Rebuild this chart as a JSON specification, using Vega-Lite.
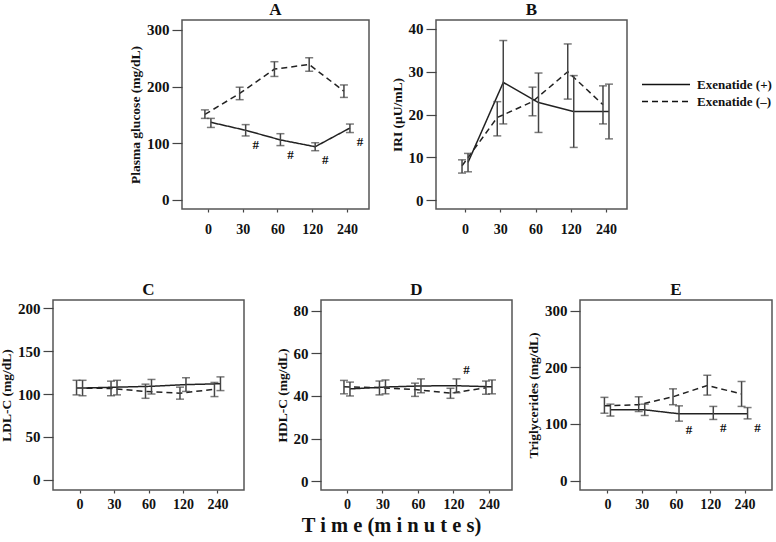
{
  "$schema": "https://vega.github.io/schema/vega-lite/v6.json",
  "background": "white",
  "padding": {"left": -2, "top": 0, "right": 0, "bottom": 0},
  "datasets": {
    "glucose": [
      {"time": 0, "group": "Exenatide (+)", "mean": 137, "lo": 128, "hi": 144, "sig": false},
      {"time": 30, "group": "Exenatide (+)", "mean": 123, "lo": 113, "hi": 133, "sig": true},
      {"time": 60, "group": "Exenatide (+)", "mean": 106, "lo": 96, "hi": 117, "sig": true},
      {"time": 120, "group": "Exenatide (+)", "mean": 94, "lo": 87, "hi": 101, "sig": true},
      {"time": 240, "group": "Exenatide (+)", "mean": 127, "lo": 119, "hi": 134, "sig": true},
      {"time": 0, "group": "Exenatide (–)", "mean": 151, "lo": 144, "hi": 159, "sig": false},
      {"time": 30, "group": "Exenatide (–)", "mean": 188, "lo": 177, "hi": 199, "sig": false},
      {"time": 60, "group": "Exenatide (–)", "mean": 231, "lo": 218, "hi": 244, "sig": false},
      {"time": 120, "group": "Exenatide (–)", "mean": 239, "lo": 227, "hi": 251, "sig": false},
      {"time": 240, "group": "Exenatide (–)", "mean": 192, "lo": 181, "hi": 203, "sig": false}
    ],
    "iri": [
      {"time": 0, "group": "Exenatide (+)", "mean": 8.8, "lo": 6.6, "hi": 10.9},
      {"time": 30, "group": "Exenatide (+)", "mean": 27.5, "lo": 17.8, "hi": 37.3},
      {"time": 60, "group": "Exenatide (+)", "mean": 22.8, "lo": 15.8, "hi": 29.7},
      {"time": 120, "group": "Exenatide (+)", "mean": 20.7, "lo": 12.3, "hi": 29.1},
      {"time": 240, "group": "Exenatide (+)", "mean": 20.7, "lo": 14.3, "hi": 27.1},
      {"time": 0, "group": "Exenatide (–)", "mean": 8.0, "lo": 6.3, "hi": 9.4},
      {"time": 30, "group": "Exenatide (–)", "mean": 19.3, "lo": 15.0, "hi": 23.0},
      {"time": 60, "group": "Exenatide (–)", "mean": 23.0, "lo": 19.7, "hi": 26.4},
      {"time": 120, "group": "Exenatide (–)", "mean": 30.0, "lo": 23.6, "hi": 36.5},
      {"time": 240, "group": "Exenatide (–)", "mean": 22.3, "lo": 17.8, "hi": 26.7}
    ],
    "ldl": [
      {"time": 0, "group": "Exenatide (+)", "mean": 107, "lo": 98, "hi": 116},
      {"time": 30, "group": "Exenatide (+)", "mean": 108, "lo": 99, "hi": 116},
      {"time": 60, "group": "Exenatide (+)", "mean": 109, "lo": 100, "hi": 117},
      {"time": 120, "group": "Exenatide (+)", "mean": 111, "lo": 103, "hi": 119},
      {"time": 240, "group": "Exenatide (+)", "mean": 112, "lo": 104, "hi": 120},
      {"time": 0, "group": "Exenatide (–)", "mean": 107, "lo": 99, "hi": 116},
      {"time": 30, "group": "Exenatide (–)", "mean": 106.5, "lo": 98, "hi": 115},
      {"time": 60, "group": "Exenatide (–)", "mean": 103, "lo": 95, "hi": 111.5},
      {"time": 120, "group": "Exenatide (–)", "mean": 101, "lo": 94, "hi": 108},
      {"time": 240, "group": "Exenatide (–)", "mean": 105.5, "lo": 97, "hi": 113.5}
    ],
    "hdl": [
      {"time": 0, "group": "Exenatide (+)", "mean": 43.3, "lo": 40, "hi": 46.5, "sig": false},
      {"time": 30, "group": "Exenatide (+)", "mean": 44.2, "lo": 41, "hi": 47.5, "sig": false},
      {"time": 60, "group": "Exenatide (+)", "mean": 44.7, "lo": 41.5, "hi": 48, "sig": false},
      {"time": 120, "group": "Exenatide (+)", "mean": 44.8, "lo": 41.5, "hi": 48, "sig": true},
      {"time": 240, "group": "Exenatide (+)", "mean": 44.3, "lo": 41, "hi": 47.5, "sig": false},
      {"time": 0, "group": "Exenatide (–)", "mean": 44.3, "lo": 41, "hi": 47.3, "sig": false},
      {"time": 30, "group": "Exenatide (–)", "mean": 43.9, "lo": 40.5, "hi": 47, "sig": false},
      {"time": 60, "group": "Exenatide (–)", "mean": 43, "lo": 39.8, "hi": 46, "sig": false},
      {"time": 120, "group": "Exenatide (–)", "mean": 41.3, "lo": 38.9, "hi": 43.6, "sig": false},
      {"time": 240, "group": "Exenatide (–)", "mean": 43.8, "lo": 40.8, "hi": 47, "sig": false}
    ],
    "tg": [
      {"time": 0, "group": "Exenatide (+)", "mean": 125, "lo": 114, "hi": 135, "sig": false},
      {"time": 30, "group": "Exenatide (+)", "mean": 125, "lo": 115, "hi": 135, "sig": false},
      {"time": 60, "group": "Exenatide (+)", "mean": 118, "lo": 105, "hi": 132, "sig": true},
      {"time": 120, "group": "Exenatide (+)", "mean": 118, "lo": 108, "hi": 131, "sig": true},
      {"time": 240, "group": "Exenatide (+)", "mean": 118, "lo": 109, "hi": 129, "sig": true},
      {"time": 0, "group": "Exenatide (–)", "mean": 132, "lo": 119, "hi": 147, "sig": false},
      {"time": 30, "group": "Exenatide (–)", "mean": 134, "lo": 122, "hi": 148, "sig": false},
      {"time": 60, "group": "Exenatide (–)", "mean": 148, "lo": 134, "hi": 162, "sig": false},
      {"time": 120, "group": "Exenatide (–)", "mean": 168, "lo": 151, "hi": 186, "sig": false},
      {"time": 240, "group": "Exenatide (–)", "mean": 153, "lo": 131, "hi": 175, "sig": false}
    ]
  },
  "vconcat": [
    {
      "hconcat": [
        {"width": 55, "height": 10, "view": {"stroke": null}, "data": {"values": []}, "mark": "point", "encoding": {}},
        {
          "title": "A",
          "width": 187, "height": 189,
          "data": {"name": "glucose"},
          "encoding": {
            "x": {"field": "time", "type": "ordinal", "title": null, "scale": {"type": "point", "padding": 0.69, "align": 0.54}},
            "xOffset": {"field": "group", "type": "nominal", "scale": {"type": "point", "domain": ["Exenatide (–)", "Exenatide (+)"], "range": [-3, 3], "padding": 0}}
          },
          "layer": [
            {"mark": {"type": "line", "color": "#222", "strokeWidth": 1.5},
             "encoding": {"y": {"field": "mean", "type": "quantitative", "title": "Plasma glucose (mg/dL)", "scale": {"domain": [-15.9, 317.6], "nice": false, "zero": false}, "axis": {"values": [0, 50, 100, 150, 200, 250, 300]}},
                          "strokeDash": {"field": "group", "type": "nominal", "title": null, "scale": {"domain": ["Exenatide (+)", "Exenatide (–)"], "range": [[1, 0], [6, 4]]}}}},
            {"mark": {"type": "rule", "color": "#444", "strokeWidth": 1.5}, "encoding": {"y": {"field": "lo", "type": "quantitative"}, "y2": {"field": "hi"}}},
            {"mark": {"type": "tick", "color": "#444", "size": 8, "thickness": 1.5}, "encoding": {"y": {"field": "lo", "type": "quantitative"}}},
            {"mark": {"type": "tick", "color": "#444", "size": 8, "thickness": 1.5}, "encoding": {"y": {"field": "hi", "type": "quantitative"}}},
            {"transform": [{"filter": "datum.sig"}], "mark": {"type": "text", "text": "#", "dx": 10, "dy": 9, "font": "Liberation Serif", "fontWeight": "bold", "fontSize": 13, "color": "#111"}, "encoding": {"y": {"field": "lo", "type": "quantitative"}}}
          ]
        },
        {
          "title": "B",
          "width": 191, "height": 189,
          "data": {"name": "iri"},
          "encoding": {
            "x": {"field": "time", "type": "ordinal", "title": null, "scale": {"type": "point", "padding": 0.71, "align": 0.58}},
            "xOffset": {"field": "group", "type": "nominal", "scale": {"type": "point", "domain": ["Exenatide (–)", "Exenatide (+)"], "range": [-3, 3], "padding": 0}}
          },
          "layer": [
            {"mark": {"type": "line", "color": "#222", "strokeWidth": 1.5},
             "encoding": {"y": {"field": "mean", "type": "quantitative", "title": "IRI (μU/mL)", "scale": {"domain": [-2.1, 42.1], "nice": false, "zero": false}, "axis": {"values": [0, 10, 20, 30, 40]}},
                          "strokeDash": {"field": "group", "type": "nominal", "title": null, "scale": {"domain": ["Exenatide (+)", "Exenatide (–)"], "range": [[1, 0], [6, 4]]}}}},
            {"mark": {"type": "rule", "color": "#444", "strokeWidth": 1.5}, "encoding": {"y": {"field": "lo", "type": "quantitative"}, "y2": {"field": "hi"}}},
            {"mark": {"type": "tick", "color": "#444", "size": 8, "thickness": 1.5}, "encoding": {"y": {"field": "lo", "type": "quantitative"}}},
            {"mark": {"type": "tick", "color": "#444", "size": 8, "thickness": 1.5}, "encoding": {"y": {"field": "hi", "type": "quantitative"}}}
          ]
        }
      ],
      "spacing": 19
    },
    {
      "hconcat": [
        {
          "title": "C",
          "width": 191, "height": 190,
          "data": {"name": "ldl"},
          "encoding": {
            "x": {"field": "time", "type": "ordinal", "title": null, "scale": {"type": "point", "padding": 0.77, "align": 0.5}, "axis": {"labelPadding": 4}},
            "xOffset": {"field": "group", "type": "nominal", "scale": {"type": "point", "domain": ["Exenatide (–)", "Exenatide (+)"], "range": [-3, 3], "padding": 0}}
          },
          "layer": [
            {"mark": {"type": "line", "color": "#222", "strokeWidth": 1.5},
             "encoding": {"y": {"field": "mean", "type": "quantitative", "title": "LDL-C (mg/dL)", "scale": {"domain": [-12, 209.7], "nice": false, "zero": false}, "axis": {"values": [0, 50, 100, 150, 200]}},
                          "strokeDash": {"field": "group", "type": "nominal", "title": null, "scale": {"domain": ["Exenatide (+)", "Exenatide (–)"], "range": [[1, 0], [6, 4]]}}}},
            {"mark": {"type": "rule", "color": "#444", "strokeWidth": 1.5}, "encoding": {"y": {"field": "lo", "type": "quantitative"}, "y2": {"field": "hi"}}},
            {"mark": {"type": "tick", "color": "#444", "size": 8, "thickness": 1.5}, "encoding": {"y": {"field": "lo", "type": "quantitative"}}},
            {"mark": {"type": "tick", "color": "#444", "size": 8, "thickness": 1.5}, "encoding": {"y": {"field": "hi", "type": "quantitative"}}}
          ]
        },
        {
          "hconcat": [
            {
              "title": "D",
              "width": 191, "height": 190,
              "data": {"name": "hdl"},
              "encoding": {
                "x": {"field": "time", "type": "ordinal", "scale": {"type": "point", "padding": 0.69, "align": 0.53},
                      "title": "T i m e  (m i n u t e s)",
                      "axis": {"labelPadding": 4, "titleFontSize": 20.5, "titleX": 70, "titleY": 41, "titleBaseline": "alphabetic", "titleAlign": "center"}},
                "xOffset": {"field": "group", "type": "nominal", "scale": {"type": "point", "domain": ["Exenatide (–)", "Exenatide (+)"], "range": [-3, 3], "padding": 0}}
              },
              "layer": [
                {"mark": {"type": "line", "color": "#222", "strokeWidth": 1.5},
                 "encoding": {"y": {"field": "mean", "type": "quantitative", "title": "HDL-C (mg/dL)", "scale": {"domain": [-4.1, 85], "nice": false, "zero": false}, "axis": {"values": [0, 20, 40, 60, 80]}},
                              "strokeDash": {"field": "group", "type": "nominal", "title": null, "scale": {"domain": ["Exenatide (+)", "Exenatide (–)"], "range": [[1, 0], [6, 4]]}}}},
                {"mark": {"type": "rule", "color": "#444", "strokeWidth": 1.5}, "encoding": {"y": {"field": "lo", "type": "quantitative"}, "y2": {"field": "hi"}}},
                {"mark": {"type": "tick", "color": "#444", "size": 8, "thickness": 1.5}, "encoding": {"y": {"field": "lo", "type": "quantitative"}}},
                {"mark": {"type": "tick", "color": "#444", "size": 8, "thickness": 1.5}, "encoding": {"y": {"field": "hi", "type": "quantitative"}}},
                {"transform": [{"filter": "datum.sig"}], "mark": {"type": "text", "text": "#", "dx": 10, "dy": -9, "font": "Liberation Serif", "fontWeight": "bold", "fontSize": 13, "color": "#111"}, "encoding": {"y": {"field": "hi", "type": "quantitative"}}}
              ]
            },
            {
              "title": "E",
              "width": 192, "height": 190,
              "data": {"name": "tg"},
              "encoding": {
                "x": {"field": "time", "type": "ordinal", "title": null, "scale": {"type": "point", "padding": 0.8, "align": 0.5}, "axis": {"labelPadding": 4}},
                "xOffset": {"field": "group", "type": "nominal", "scale": {"type": "point", "domain": ["Exenatide (–)", "Exenatide (+)"], "range": [-3, 3], "padding": 0}}
              },
              "layer": [
                {"mark": {"type": "line", "color": "#222", "strokeWidth": 1.5},
                 "encoding": {"y": {"field": "mean", "type": "quantitative", "title": "Triglycerides (mg/dL)", "scale": {"domain": [-16.5, 318.8], "nice": false, "zero": false}, "axis": {"values": [0, 50, 100, 150, 200, 250, 300]}},
                              "strokeDash": {"field": "group", "type": "nominal", "title": null, "scale": {"domain": ["Exenatide (+)", "Exenatide (–)"], "range": [[1, 0], [6, 4]]}}}},
                {"mark": {"type": "rule", "color": "#444", "strokeWidth": 1.5}, "encoding": {"y": {"field": "lo", "type": "quantitative"}, "y2": {"field": "hi"}}},
                {"mark": {"type": "tick", "color": "#444", "size": 8, "thickness": 1.5}, "encoding": {"y": {"field": "lo", "type": "quantitative"}}},
                {"mark": {"type": "tick", "color": "#444", "size": 8, "thickness": 1.5}, "encoding": {"y": {"field": "hi", "type": "quantitative"}}},
                {"transform": [{"filter": "datum.sig"}], "mark": {"type": "text", "text": "#", "dx": 10, "dy": 9, "font": "Liberation Serif", "fontWeight": "bold", "fontSize": 13, "color": "#111"}, "encoding": {"y": {"field": "lo", "type": "quantitative"}}}
              ]
            }
          ],
          "spacing": 12
        }
      ],
      "spacing": 29
    }
  ],
  "spacing": 43,
  "config": {
    "view": {"stroke": "#555", "strokeWidth": 1.5},
    "title": {"font": "Liberation Serif", "fontSize": 17, "fontWeight": "bold", "color": "#111", "offset": 1},
    "axis": {"labelFont": "Liberation Serif", "labelFontWeight": "bold", "labelColor": "#111", "titleFont": "Liberation Serif", "titleFontWeight": "bold", "titleColor": "#111", "domain": false, "grid": false, "tickColor": "#444", "tickWidth": 1.2},
    "axisY": {"tickSize": 10, "labelPadding": 3, "labelFontSize": 15, "titleFontSize": 13.5, "titlePadding": 4},
    "axisX": {"tickSize": 3, "labelPadding": 10, "labelFontSize": 14, "labelAngle": 0},
    "legend": {"orient": "none", "legendX": 588, "legendY": 58, "symbolType": "stroke", "symbolSize": 2304, "symbolStrokeWidth": 1.5, "symbolStrokeColor": "#111", "labelFont": "Liberation Serif", "labelFontSize": 13, "labelFontWeight": "bold", "labelColor": "#111", "labelOffset": 6, "rowPadding": 3, "clipHeight": 13}
  }
}
